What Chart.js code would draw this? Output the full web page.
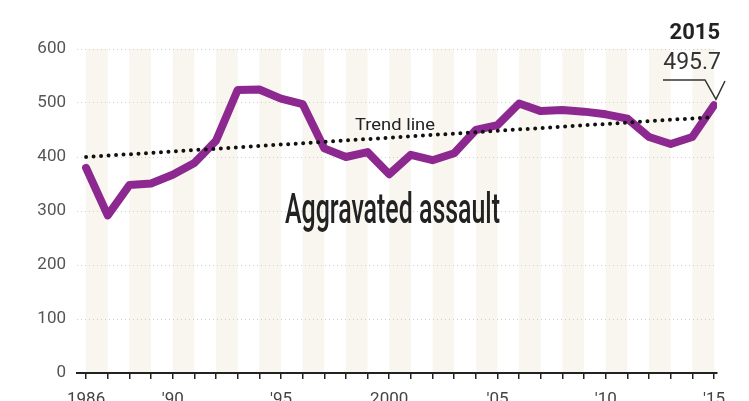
<!DOCTYPE html>
<html>
<head>
<meta charset="utf-8">
<script src="https://cdn.jsdelivr.net/npm/chart.js@4"></script>
<style>
	body { margin: 0; background: #fff; }
	#wrap { width: 749px; height: 401px; position: relative; }
</style>
</head>
<body>
<div id="wrap"><canvas id="chart"></canvas></div>
<script>
// Aggravated assault rate per year, with trend line

const years = [
	1986, 1987, 1988, 1989, 1990, 1991, 1992, 1993, 1994, 1995,
	1996, 1997, 1998, 1999, 2000, 2001, 2002, 2003, 2004, 2005,
	2006, 2007, 2008, 2009, 2010, 2011, 2012, 2013, 2014, 2015,
];
const assaultRates = [
	380, 292, 348, 351, 367, 389, 430, 524, 525, 508,
	498, 416, 400, 409, 368, 404, 394, 407, 450, 459,
	499, 485, 487, 484, 479, 471, 437, 424, 437, 495.7,
];
const trendYears = [1986, 2015];
const trendValues = [400, 474];
const labelYears = [1986, 1990, 1995, 2000, 2005, 2010, 2015];
const labelTexts = ["1986", "'90", "'95", "2000", "'05", "'10", "'15"];
const yTicks = [0, 100, 200, 300, 400, 500, 600];

const PURPLE = "#8c2890";

// shaded columns, every other year
const bandsPlugin = {
	id: "bands",
	beforeDraw(chart) {
		const { ctx, chartArea } = chart;
		const x = chart.scales.x;
		ctx.save();
		ctx.fillStyle = "#f8f6ef";
		for (let i = 0; i < years.length - 1; i += 2) {
			const x0 = x.getPixelForValue(years[i]);
			const x1 = x.getPixelForValue(years[i + 1]);
			ctx.fillRect(x0, chartArea.top, x1 - x0, chartArea.bottom - chartArea.top);
		}
		ctx.restore();
	},
};

// squeeze text into a given width (condensed look)
const drawNarrow = (ctx, text, x, y, width) => {
	const w = ctx.measureText(text).width;
	ctx.save();
	ctx.translate(x, y);
	ctx.scale(width / w, 1);
	ctx.fillText(text, 0, 0);
	ctx.restore();
};

const notesPlugin = {
	id: "notes",
	afterDatasetsDraw(chart) {
		const { ctx } = chart;
		ctx.save();
		ctx.fillStyle = "#222";
		ctx.textBaseline = "alphabetic";
		ctx.textAlign = "left";

		ctx.font = "17px Roboto, sans-serif";
		drawNarrow(ctx, "Trend line", 355, 130, 80);

		ctx.font = "500 42px Roboto, sans-serif";
		drawNarrow(ctx, "Aggravated assault", 285, 223, 215);

		// callout for last value
		const meta = chart.getDatasetMeta(1);
		const p = meta.data[meta.data.length - 1];
		ctx.textAlign = "right";
		ctx.fillStyle = "#222";
		ctx.font = "bold 22px Roboto, sans-serif";
		ctx.fillText(String(years[years.length - 1]), 720, 39);
		ctx.fillStyle = "#333";
		ctx.font = "23px Roboto, sans-serif";
		ctx.fillText(String(assaultRates[assaultRates.length - 1]), 721, 69);

		ctx.strokeStyle = "#333";
		ctx.lineWidth = 1.5;
		ctx.beginPath();
		ctx.moveTo(663, 80);
		ctx.lineTo(705, 80);
		ctx.lineTo(p.x + 2, p.y - 6);
		ctx.lineTo(725, 81);
		ctx.stroke();
		ctx.restore();
	},
};

new Chart(document.getElementById("chart"), {
	type: "line",
	data: {
		datasets: [
			{
				label: "Trend line",
				data: trendYears.map((y, i) => ({ x: y, y: trendValues[i] })),
				borderColor: "#111",
				borderWidth: 4,
				borderDash: [0, 7.5],
				borderCapStyle: "round",
				pointRadius: 0,
			},
			{
				label: "Aggravated assault",
				data: years.map((y, i) => ({ x: y, y: assaultRates[i] })),
				borderColor: PURPLE,
				borderWidth: 8,
				borderJoinStyle: "round",
				borderCapStyle: "round",
				pointRadius: 0,
				tension: 0,
			},
		],
	},
	options: {
		responsive: true,
		maintainAspectRatio: false,
		animation: false,
		layout: { padding: { left: 0, top: 49, right: 32, bottom: 0 } },
		plugins: {
			legend: { display: false },
			tooltip: { enabled: false },
		},
		scales: {
			x: {
				type: "linear",
				min: 1985.58,
				max: 2015.14,
				afterBuildTicks: (scale) => {
					scale.ticks = years.map((v) => ({ value: v }));
				},
				afterFit: (scale) => {
					scale.height = 28;
				},
				ticks: {
					autoSkip: false,
					maxRotation: 0,
					padding: 11,
					color: "#444",
					font: { family: "Roboto, sans-serif", size: 17 },
					callback: (v) => {
						const i = labelYears.indexOf(v);
						return i >= 0 ? labelTexts[i] : "";
					},
				},
				grid: {
					drawOnChartArea: false,
					drawTicks: true,
					tickLength: 6,
					tickColor: "#222",
					lineWidth: 1.5,
				},
				border: { display: true, color: "#222", width: 2 },
			},
			y: {
				min: 0,
				max: 600,
				afterBuildTicks: (scale) => {
					scale.ticks = yTicks.map((v) => ({ value: v }));
				},
				afterFit: (scale) => {
					scale.width = 77;
				},
				ticks: {
					padding: 11,
					color: "#555",
					font: { family: "Roboto, sans-serif", size: 17 },
				},
				grid: {
					drawTicks: false,
					color: "#cfcfcf",
					lineWidth: 1,
				},
				border: { display: false, dash: [1, 3] },
			},
		},
	},
	plugins: [bandsPlugin, notesPlugin],
});
</script>
</body>
</html>
